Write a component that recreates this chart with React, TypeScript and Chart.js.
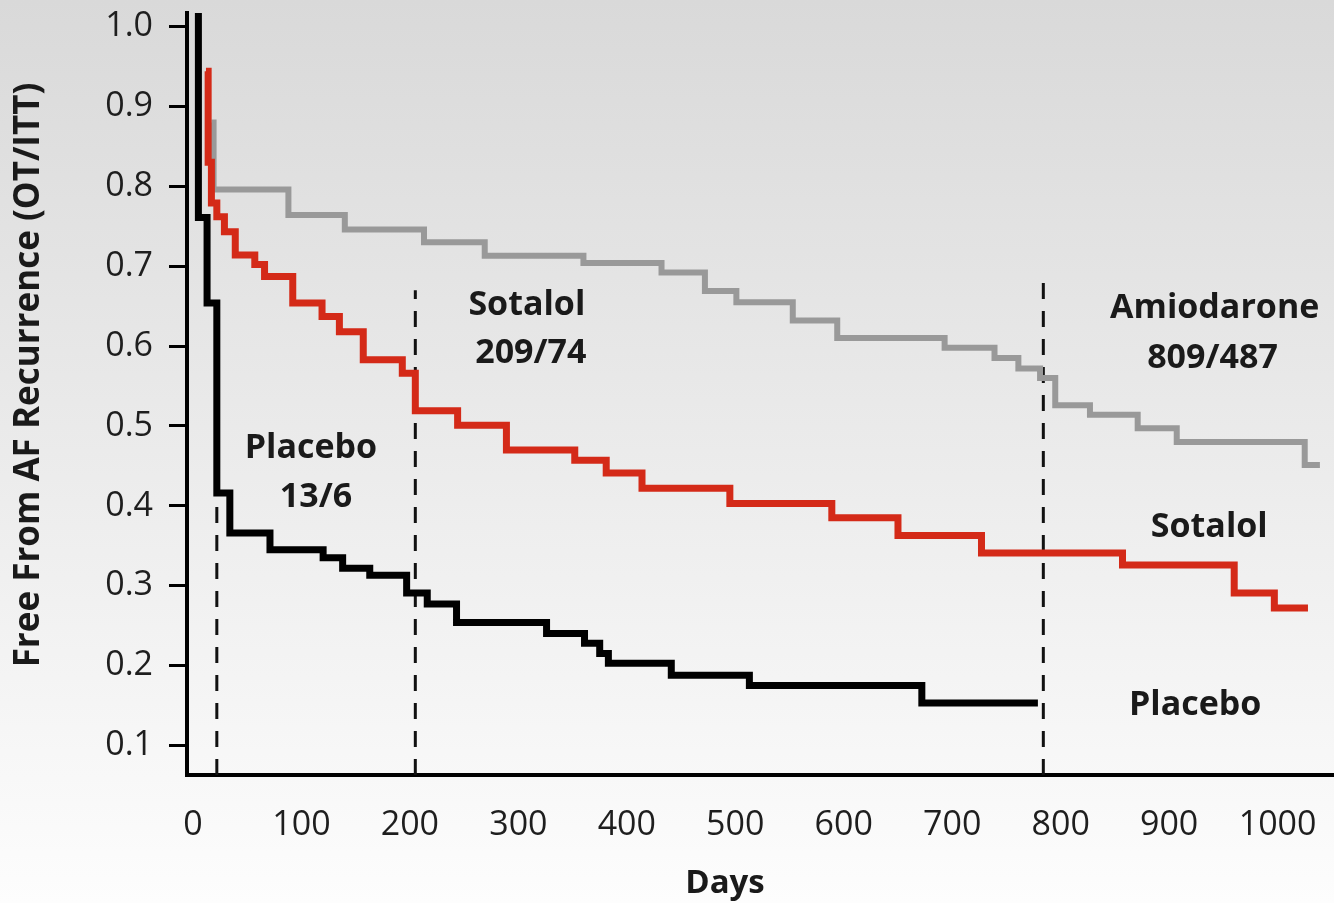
import { useEffect, useRef } from 'react';
import { Chart, registerables } from 'chart.js';

Chart.register(...registerables);

// ---- Data ----
const xTicks = [0, 100, 200, 300, 400, 500, 600, 700, 800, 900, 1000];
const yTicks = [0.1, 0.2, 0.3, 0.4, 0.5, 0.6, 0.7, 0.8, 0.9, 1.0];

const placeboDays = [5, 5, 13, 22, 34, 71, 120, 138, 163, 197, 216, 243, 326, 361, 375, 383, 441, 513, 672, 779];
const placeboFree = [1.017, 0.761, 0.654, 0.416, 0.366, 0.345, 0.335, 0.322, 0.313, 0.291, 0.277, 0.254, 0.24, 0.228, 0.215, 0.203, 0.188, 0.175, 0.153, 0.153];

const sotalolDays = [12, 14, 17, 22, 29, 39, 57, 66, 92, 119, 135, 157, 193, 205, 244, 289, 352, 381, 414, 495, 589, 650, 727, 857, 960, 997, 1028];
const sotalolFree = [0.944, 0.83, 0.779, 0.762, 0.743, 0.714, 0.702, 0.687, 0.654, 0.637, 0.618, 0.583, 0.566, 0.519, 0.501, 0.47, 0.457, 0.441, 0.422, 0.403, 0.385, 0.363, 0.341, 0.326, 0.291, 0.272, 0.272];

const amioDays = [17, 19, 88, 140, 213, 269, 360, 432, 472, 501, 553, 594, 693, 739, 761, 781, 795, 827, 871, 907, 1025, 1039];
const amioFree = [0.88, 0.796, 0.764, 0.746, 0.73, 0.713, 0.704, 0.692, 0.669, 0.655, 0.632, 0.61, 0.598, 0.585, 0.572, 0.56, 0.526, 0.514, 0.497, 0.48, 0.451, 0.451];

// dashed reference lines (day, top value)
const markerDays = [22, 205, 784];
const markerTops = [0.42, 0.67, 0.69];

// annotation labels (text, day, value at text baseline)
const noteTexts = ['Placebo', '13/6', 'Sotalol', '209/74', 'Amiodarone', '809/487', 'Sotalol', 'Placebo'];
const noteDays = [108.8, 113.4, 307.8, 311.5, 942, 940, 937, 924];
const noteVals = [0.46, 0.398, 0.639, 0.579, 0.635, 0.573, 0.361, 0.138];

const Y_MIN = 0.063;
const Y_MAX = 1.017;
const X_MIN = -5.5;
const X_MAX = 1052;

const W = 1334;
const H = 903;

const FONT = "'Open Sans', 'Liberation Sans', sans-serif";

function pts(days: number[], vals: number[]) {
  return days.map((d, i) => ({ x: d, y: vals[i] }));
}

const bgPlugin = {
  id: 'bgGradient',
  beforeDraw(chart: any) {
    const { ctx, width, height } = chart;
    const g = ctx.createLinearGradient(0, 0, 0, height);
    g.addColorStop(0, '#d9d9d9');
    g.addColorStop(0.5, '#ebebeb');
    g.addColorStop(1, '#fdfdfd');
    ctx.save();
    ctx.fillStyle = g;
    ctx.fillRect(0, 0, width, height);
    ctx.restore();
  },
};

const textPlugin = {
  id: 'textNotes',
  afterDraw(chart: any) {
    const { ctx } = chart;
    const xs = chart.scales.x;
    const ys = chart.scales.y;
    ctx.save();
    ctx.fillStyle = '#1a1a1a';
    ctx.textAlign = 'center';
    ctx.textBaseline = 'alphabetic';
    ctx.font = `bold 34px ${FONT}`;
    noteTexts.forEach((t, i) => {
      ctx.fillText(t, xs.getPixelForValue(noteDays[i]), ys.getPixelForValue(noteVals[i]));
    });
    // axis titles
    ctx.textBaseline = 'middle';
    ctx.font = `bold 33px ${FONT}`;
    ctx.fillText('Days', 725, 884);
    ctx.font = `bold 35px ${FONT}`;
    ctx.translate(29, 375);
    ctx.rotate(-Math.PI / 2);
    ctx.fillText('Free From AF Recurrence (OT/ITT)', 0, 0);
    ctx.restore();
  },
};

export default function App() {
  const ref = useRef<HTMLCanvasElement | null>(null);

  useEffect(() => {
    if (!ref.current) return;
    const stepLine = (data: any, color: string, width: number) => ({
      data,
      borderColor: color,
      borderWidth: width,
      stepped: 'before' as const,
      pointRadius: 0,
      fill: false,
      tension: 0,
      borderJoinStyle: 'miter' as const,
      borderCapStyle: 'butt' as const,
      clip: false as any,
    });
    const dashed = markerDays.map((d, i) => ({
      data: [
        { x: d, y: Y_MIN },
        { x: d, y: markerTops[i] },
      ],
      borderColor: '#111111',
      borderWidth: 3,
      borderDash: [16, 12],
      pointRadius: 0,
      fill: false,
      borderCapStyle: 'butt' as const,
    }));

    const chart = new Chart(ref.current, {
      type: 'line',
      data: {
        datasets: [
          stepLine(pts(placeboDays, placeboFree), '#000000', 7),
          stepLine(pts(sotalolDays, sotalolFree), '#d42a18', 7),
          stepLine(pts(amioDays, amioFree), '#999999', 6),
          ...dashed,
        ] as any,
      },
      options: {
        responsive: false,
        animation: false,
        devicePixelRatio: 1,
        layout: { padding: { top: 13, left: 0, right: 0, bottom: 0 } },
        plugins: {
          legend: { display: false },
          tooltip: { enabled: false },
          title: { display: false },
        },
        scales: {
          x: {
            type: 'linear',
            min: X_MIN,
            max: X_MAX,
            afterBuildTicks: (s: any) => {
              s.ticks = xTicks.map((v) => ({ value: v }));
            },
            afterFit: (s: any) => {
              s.height = H - 775;
              s.paddingLeft = 0;
              s.paddingRight = 0;
            },
            grid: { display: false, drawTicks: false },
            border: { display: true, color: '#000000', width: 4 },
            ticks: {
              font: { family: FONT, size: 34 },
              color: '#1e1e1e',
              padding: 30,
              maxRotation: 0,
              autoSkip: false,
              callback: (v: any) => String(v),
            },
          },
          y: {
            type: 'linear',
            min: Y_MIN,
            max: Y_MAX,
            afterBuildTicks: (s: any) => {
              s.ticks = yTicks.map((v) => ({ value: v }));
            },
            afterFit: (s: any) => {
              s.width = 187;
              s.paddingTop = 0;
              s.paddingBottom = 0;
            },
            grid: {
              display: true,
              drawOnChartArea: false,
              drawTicks: true,
              tickLength: 18,
              tickWidth: 3,
              color: '#000000',
            },
            border: { display: true, color: '#000000', width: 4 },
            ticks: {
              font: { family: FONT, size: 34 },
              color: '#1e1e1e',
              padding: 16,
              autoSkip: false,
              callback: (v: any) => Number(v).toFixed(1),
            },
          },
        },
      },
      plugins: [bgPlugin, textPlugin],
    });
    return () => chart.destroy();
  }, []);

  return (
    <div style={{ position: 'absolute', left: 0, top: 0, width: W, height: H }}>
      <canvas ref={ref} width={W} height={H} style={{ display: 'block', width: W, height: H }} />
    </div>
  );
}
